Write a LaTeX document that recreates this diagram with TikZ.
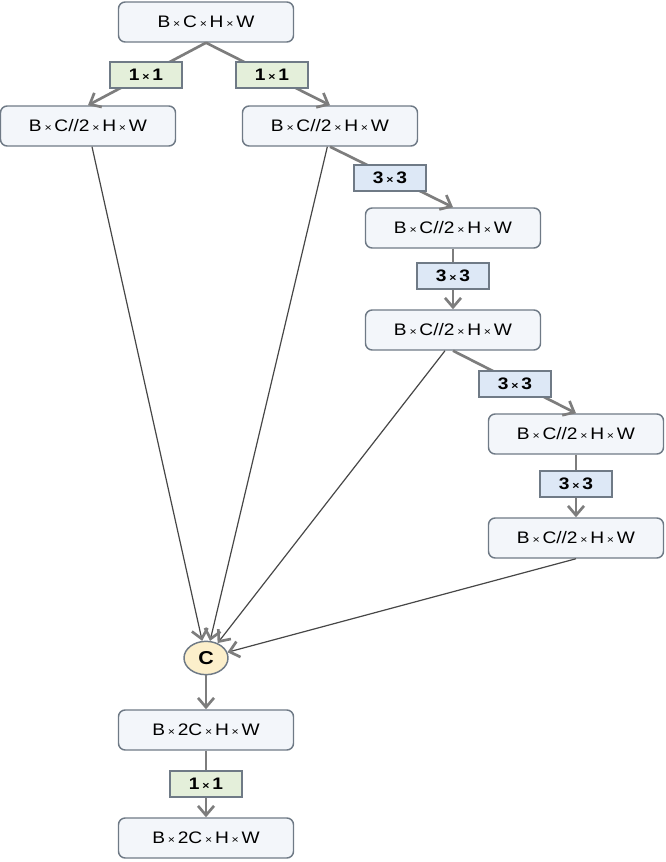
\documentclass[tikz,border=0pt]{standalone}
\usepackage{fontspec}
\setmainfont[FakeStretch=1.15]{Liberation Sans}
\usetikzlibrary{arrows.meta,shapes.geometric}
\newcommand{\tms}{\,{\fontsize{8}{8}\selectfont ×}\,}
\definecolor{boxfill}{HTML}{F3F6FA}
\definecolor{boxline}{HTML}{6F7A86}
\definecolor{greenfill}{HTML}{E4EFDA}
\definecolor{bluefill}{HTML}{DDE8F6}
\definecolor{cfill}{HTML}{FCEFCB}
\definecolor{arr}{HTML}{7D7D7D}
\tikzset{
  shapebox/.style={draw=boxline, fill=boxfill, rounded corners=5pt, line width=1.1pt,
    minimum width=131.25pt, minimum height=30pt, inner sep=0pt, font=\fontsize{12.5}{14}\selectfont},
  convg/.style={draw=boxline, fill=greenfill, line width=1.1pt, minimum width=54pt,
    minimum height=19.5pt, inner sep=0pt, font=\bfseries\fontsize{12.5}{14}\selectfont},
  convb/.style={convg, fill=bluefill},
  catnode/.style={ellipse, draw=boxline, fill=cfill, line width=1.1pt, minimum width=33pt,
    minimum height=25pt, inner sep=0pt, font=\bfseries\fontsize{14}{14}\selectfont},
  flow/.style={draw=arr, line width=2pt, -{Straight Barb[length=7pt,width=12pt,line width=2pt]}},
  skip/.style={draw=black!72, line width=0.9pt, -{Straight Barb[length=7pt,width=12pt,line width=2pt,color=arr]}},
}
\begin{document}
\begin{tikzpicture}[x=0.75pt,y=-0.75pt]
\useasboundingbox (0,0) rectangle (665,862);
\node[shapebox] (top) at (206,22) {B\tms C\tms H\tms W};
\node[shapebox] (l1) at (88,126) {B\tms C//2\tms H\tms W};
\node[shapebox] (r1) at (330,126) {B\tms C//2\tms H\tms W};
\node[shapebox] (r2) at (453,228) {B\tms C//2\tms H\tms W};
\node[shapebox] (r3) at (453,330) {B\tms C//2\tms H\tms W};
\node[shapebox] (r4) at (576,434) {B\tms C//2\tms H\tms W};
\node[shapebox] (r5) at (576,538) {B\tms C//2\tms H\tms W};
\node[catnode] (cat) at (206,658) {C};
\node[shapebox] (o1) at (206,730) {B\tms 2C\tms H\tms W};
\node[shapebox] (o2) at (206,838) {B\tms 2C\tms H\tms W};

\draw[flow] (top.south) -- (l1.north);
\draw[flow] (top.south) -- (r1.north);
\draw[flow] (r1.south) -- (r2.north);
\draw[flow] (r2.south) -- (r3.north);
\draw[flow] (r3.south) -- (r4.north);
\draw[flow] (r4.south) -- (r5.north);
\draw[flow] (cat.south) -- (o1.north);
\draw[flow] (o1.south) -- (o2.north);

\draw[skip] ([xshift=3pt]l1.south) -- (cat);
\draw[skip] ([xshift=-2pt]r1.south) -- (cat);
\draw[skip] ([xshift=-6pt]r3.south) -- (cat);
\draw[skip] (r5.south) -- (cat);

\node[convg] (ka) at (146,75) {1\tms 1};
\node[convg] (kb) at (272,75) {1\tms 1};
\node[convb] (kc) at (390,178) {3\tms 3};
\node[convb] (kd) at (453,276) {3\tms 3};
\node[convb] (ke) at (515,384) {3\tms 3};
\node[convb] (kf) at (576,484) {3\tms 3};
\node[convg] (kg) at (206,784) {1\tms 1};
\end{tikzpicture}
\end{document}
